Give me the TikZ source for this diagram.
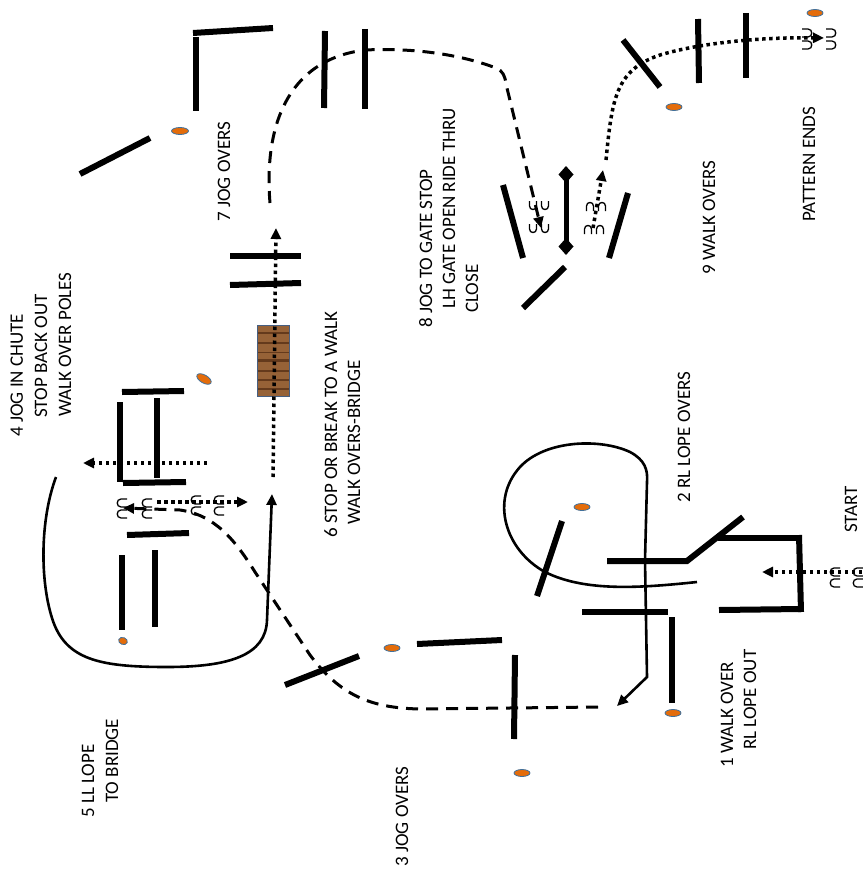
\documentclass[tikz,border=0pt]{standalone}
\usepackage{fontspec}
\setmainfont{Carlito}
\usetikzlibrary{arrows.meta}
\definecolor{dotfill}{RGB}{228,108,10}
\definecolor{dotedge}{RGB}{65,113,156}
\definecolor{woodA}{RGB}{150,98,55}
\definecolor{woodB}{RGB}{100,58,28}
\definecolor{woodedge}{RGB}{70,95,130}
\begin{document}
\begin{tikzpicture}[x=1pt,y=-1pt,
  pole/.style={line width=6pt},
  thinpath/.style={line width=2.6pt},
  dashpath/.style={line width=3pt, dash pattern=on 12pt off 8pt},
  dotpath/.style={line width=3.5pt, dash pattern=on 3.5pt off 3.5pt},
  arrowend/.style={-{Triangle[length=11pt,width=10pt]}},
  cone/.style={fill=dotfill, draw=dotedge, line width=0.8pt},
  lbl/.style={rotate=90, anchor=base west, inner sep=0pt, font=\fontsize{19}{23}\selectfont},
  hoofline/.style={line width=1.3pt},
  hoofN/.pic={\draw[hoofline] (-3.5,5) -- (-3.5,0) .. controls (-3.5,-4.7) and (3.5,-4.7) .. (3.5,0) -- (3.5,5);},
  hoofS/.pic={\draw[hoofline] (-3.5,-5) -- (-3.5,0) .. controls (-3.5,4.7) and (3.5,4.7) .. (3.5,0) -- (3.5,-5);},
  hoofW/.pic={\draw[hoofline] (5,-4) -- (-1,-4) .. controls (-6,-4) and (-6,4) .. (-1,4) -- (5,4);},
  hoofE/.pic={\draw[hoofline] (-5,-4) -- (1,-4) .. controls (6,-4) and (6,4) .. (1,4) -- (-5,4);}
]
\useasboundingbox (0,0) rectangle (862,872);

% ---------- bridge ----------
\fill[woodA] (257,325) rectangle (289,396);
\foreach \yy/\ww in {333/1.5, 343/2.5, 352/1, 360/3, 371/1.5, 380/2, 389/1.2}
  \draw[woodB, line width=\ww pt] (257,\yy) -- (289,\yy);
\draw[woodedge, line width=1pt] (257,325) rectangle (289,396);

% ---------- poles ----------
\draw[pole] (80,174) -- (150,138);
\draw[pole] (196,111) -- (196,37);
\draw[pole] (193,33) -- (273,28);
\draw[pole] (325,31) -- (324,108);
\draw[pole] (365,29) -- (365,109);
\draw[pole] (230,256) -- (301,256);
\draw[pole] (230,285) -- (301,283);
% chute
\draw[pole] (122,392) -- (184,391);
\draw[pole] (120,402) -- (120,482);
\draw[pole] (157,398) -- (157,478);
\draw[pole] (123,483) -- (186,482);
% lope poles
\draw[pole] (127,535) -- (189,533);
\draw[pole] (122,555) -- (122,630);
\draw[pole] (155,550) -- (155,627);
% jog overs 3
\draw[pole] (285,685) -- (359,656);
\draw[pole] (417,644) -- (502,640);
\draw[pole] (515,655) -- (514,739);
% walk over 1 / lope 2
\draw[pole] (582,612) -- (668,612);
\draw[pole] (672,617) -- (672,703);
\draw[pole] (562,521) -- (537,596);
\draw[pole] (607,561) -- (687,561) -- (743,517);
% start box
\draw[pole] (718,538) -- (799,538);
\draw[pole] (799,535) -- (801,612);
\draw[pole] (719,610) -- (801,609);
% gate
\draw[pole] (503,185) -- (523,258);
\draw[pole] (628,193) -- (609,258);
\draw[pole] (565,267) -- (523,308);
\draw[line width=5pt, {Diamond[length=17pt,width=15pt]}-{Diamond[length=17pt,width=15pt]}] (566,166) -- (566,255);
% walk overs 9
\draw[pole] (623,40) -- (660,87);
\draw[pole] (698,19) -- (699,83);
\draw[pole] (746,13) -- (746,78);

% ---------- cones ----------
\path[cone] (180,131) ellipse [x radius=8.5, y radius=3.5];
\begin{scope}[shift={(204,379)}, rotate=-30]
  \path[cone] (0,0) ellipse [x radius=8, y radius=4];
\end{scope}
\begin{scope}[shift={(123,641)}, rotate=-20]
  \path[cone] (0,0) ellipse [x radius=4.5, y radius=3.5];
\end{scope}
\path[cone] (392,648) ellipse [x radius=8, y radius=3.5];
\path[cone] (522,773) ellipse [x radius=8, y radius=3.5];
\path[cone] (673,713) ellipse [x radius=8, y radius=3.5];
\path[cone] (582,507) ellipse [x radius=8, y radius=3.5];
\path[cone] (674,107) ellipse [x radius=8, y radius=3.5];
\path[cone] (815,13) ellipse [x radius=8, y radius=3.5];

% ---------- routes ----------
% start -> into box
\draw[dotpath, arrowend] (862,572) -- (762,572);
% 2 lope loop, 1 lope out
\draw[thinpath, arrowend] (697,582) .. controls (640,588) and (585,592) .. (545,572)
  .. controls (505,550) and (490,500) .. (520,467)
  .. controls (545,440) and (600,438) .. (630,452)
  .. controls (645,460) and (648,470) .. (647,482)
  -- (645,560) -- (647,677) -- (617,706);
% 3 jog overs to chute
\draw[dashpath, arrowend] (598,707) -- (420,709) .. controls (370,708) and (340,695) .. (310,655)
  -- (255,572) .. controls (235,540) and (215,515) .. (180,510) -- (123,508);
% 4 back out / walk over poles
\draw[dotpath, arrowend] (207,463) -- (83,463);
\draw[dotpath, arrowend] (157,502) -- (248,502);
% 5 left lope to bridge
\draw[thinpath, arrowend] (56,477) .. controls (40,520) and (40,580) .. (52,618)
  .. controls (65,660) and (100,667) .. (167,667)
  .. controls (230,667) and (266,655) .. (267,620) -- (272,494);
% 6 over bridge
\draw[dotpath, arrowend] (273,477) -- (276,228);
% 7 jog overs, 8 to gate
\draw[dashpath, arrowend] (270,203) .. controls (264,130) and (285,60) .. (365,50)
  .. controls (430,47) and (475,60) .. (496,68)
  .. controls (503,71) and (505,76) .. (506,84) -- (541,228);
% 9 walk overs
\draw[dotpath, arrowend] (593,228) -- (603,170);
\draw[dotpath, arrowend] (606,160) .. controls (612,100) and (615,70) .. (660,55)
  .. controls (700,43) and (760,37) .. (824,38);

% ---------- hoof prints ----------
\foreach \hx/\hy in {122/503, 122/514, 147/503, 147/514, 196/500, 196/511, 219/500, 219/511}
  \pic at (\hx,\hy) {hoofW};
\foreach \hx/\hy in {533/206, 545/206, 533/229, 545/229}
  \pic at (\hx,\hy) {hoofS};
\foreach \hx/\hy in {590/206, 602/206, 588/229, 600/229}
  \pic at (\hx,\hy) {hoofN};
\foreach \hx/\hy in {835/572, 835/583, 858/572, 858/583}
  \pic at (\hx,\hy) {hoofW};
\foreach \hx/\hy in {807/33, 807/45, 831/33, 831/45}
  \pic at (\hx,\hy) {hoofE};

% ---------- labels ----------
\node[lbl] (t4a) at (23,437) {4 JOG IN CHUTE};
\node[lbl] (t4b) at (47,418) {STOP BACK OUT};
\node[lbl] (t4c) at (71,417) {WALK OVER POLES};
\node[lbl] (t7) at (230,222) {7 JOG OVERS};
\node[lbl] (t8a) at (432,328) {8 JOG TO GATE STOP};
\node[lbl] (t8b) at (455,309) {LH GATE OPEN RIDE THRU};
\node[lbl] (t8c) at (478,313) {CLOSE};
\node[lbl] (t9) at (715,275) {9 WALK OVERS};
\node[lbl] (tend) at (815,222) {PATTERN ENDS};
\node[lbl] (t2) at (690,503) {2 RL LOPE OVERS};
\node[lbl] (tstart) at (857,533) {START};
\node[lbl] (t1a) at (733,768) {1 WALK OVER};
\node[lbl] (t1b) at (756,750) {RL LOPE OUT};
\node[lbl] (t3) at (408,867) {3 JOG OVERS};
\node[lbl] (t5a) at (94,818) {5 LL LOPE};
\node[lbl] (t5b) at (118,803) {TO BRIDGE};
\node[lbl] (t6a) at (337,538) {6 STOP OR BREAK TO A WALK};
\node[lbl] (t6b) at (360,525) {WALK OVERS-BRIDGE};
\end{tikzpicture}
\end{document}
